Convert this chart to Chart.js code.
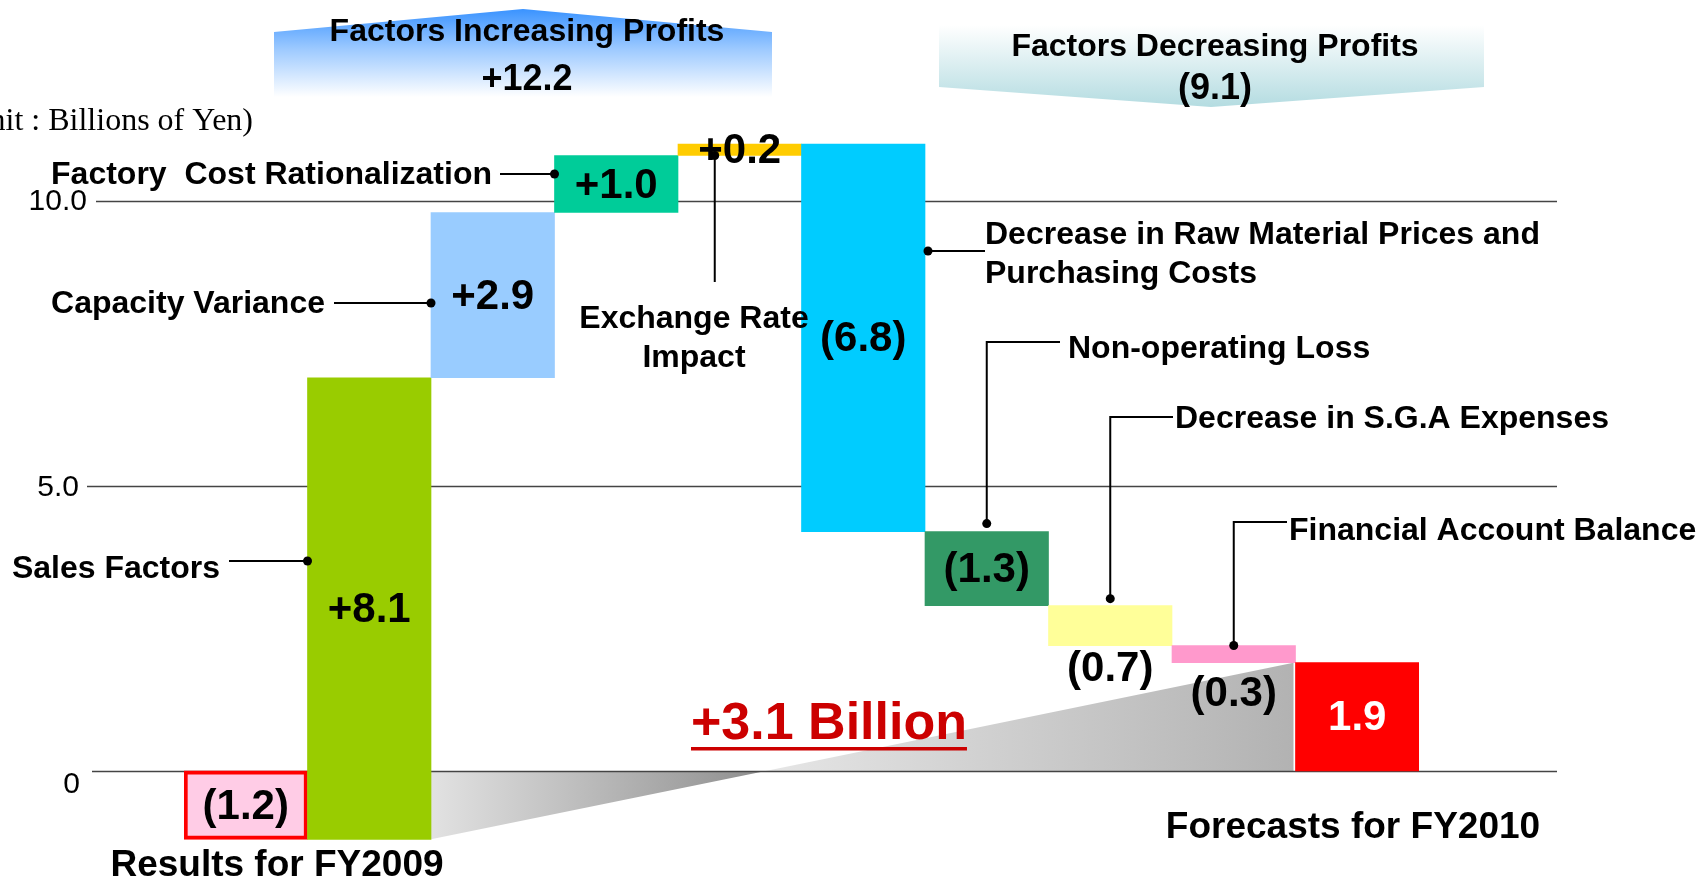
<!DOCTYPE html>
<html>
<head>
<meta charset="utf-8">
<script src="https://cdn.jsdelivr.net/npm/chart.js@4.4.1/dist/chart.umd.min.js"></script>
<style>
  html, body { margin: 0; padding: 0; background: #fff; }
  canvas { display: block; }
</style>
</head>
<body>
<canvas id="bridgeChart" width="1698" height="878"></canvas>
<script>
// Ordinary profit bridge, FY2009 results -> FY2010 forecast (billions of yen)
const categories = [
  "Results for FY2009",
  "Sales Factors",
  "Capacity Variance",
  "Factory  Cost Rationalization",
  "Exchange Rate Impact",
  "Decrease in Raw Material Prices and Purchasing Costs",
  "Non-operating Loss",
  "Decrease in S.G.A Expenses",
  "Financial Account Balance",
  "Forecasts for FY2010"
];
const resultFY2009 = -1.2;
const factorChanges = [8.1, 2.9, 1.0, 0.2, -6.8, -1.3, -0.7, -0.3];
const forecastFY2010 = 1.9;
const barLabels = ["(1.2)", "+8.1", "+2.9", "+1.0", "+0.2", "(6.8)", "(1.3)", "(0.7)", "(0.3)", "1.9"];
const yTicks = [0, 5, 10];
const yTickLabels = ["0", "5.0", "10.0"];
const increaseTotal = "+12.2";
const decreaseTotal = "(9.1)";
const netChange = "+3.1 Billion";

const barColors = ["#ffcce6", "#99cc00", "#99ccff", "#00cc99", "#ffcc00", "#00ccff", "#339966", "#ffff99", "#ff99cc", "#ff0000"];
const FONT = '"Liberation Sans", Arial, Helvetica, sans-serif';

// floating bars [from, to]
const floating = [[0, resultFY2009]];
let level = resultFY2009;
factorChanges.forEach(d => {
  const next = Math.round((level + d) * 10) / 10;
  floating.push([level, next]);
  level = next;
});
floating.push([0, forecastFY2010]);

function edges(b) {
  return {
    cx: b.x,
    left: b.x - b.width / 2,
    right: b.x + b.width / 2,
    top: Math.min(b.y, b.base),
    bottom: Math.max(b.y, b.base)
  };
}

function label(ctx, str, x, y, size, opts) {
  opts = opts || {};
  ctx.save();
  ctx.font = (opts.weight || "bold") + " " + size + "px " + (opts.family || FONT);
  ctx.fillStyle = opts.color || "#000";
  ctx.textAlign = opts.align || "center";
  ctx.textBaseline = "middle";
  ctx.fillText(str, x, y);
  ctx.restore();
}

// callout labels with leader lines; last path point gets a dot
const callouts = [
  { bar: 1, lines: ["Sales Factors"], align: "right", x: 220, y: [569],
    path: e => [[229, 561], [e.left, 561]] },
  { bar: 2, lines: ["Capacity Variance"], align: "right", x: 325, y: [304],
    path: e => [[334, 303], [e.left, 303]] },
  { bar: 3, lines: ["Factory  Cost Rationalization"], align: "right", x: 492, y: [175],
    path: e => [[500, 174], [e.left, 174]] },
  { bar: 4, lines: ["Exchange Rate", "Impact"], align: "center", x: 694, y: [319, 358],
    path: e => [[e.cx - 25, 282], [e.cx - 25, e.bottom]] },
  { bar: 5, lines: ["Decrease in Raw Material Prices and", "Purchasing Costs"], align: "left", x: 985, y: [235, 274],
    path: e => [[985, 251], [e.right + 3, 251]] },
  { bar: 6, lines: ["Non-operating Loss"], align: "left", x: 1068, y: [349],
    path: e => [[1060, 342], [e.cx, 342], [e.cx, e.top - 8]] },
  { bar: 7, lines: ["Decrease in S.G.A Expenses"], align: "left", x: 1175, y: [419],
    path: e => [[1173, 417], [e.cx, 417], [e.cx, e.top - 7]] },
  { bar: 8, lines: ["Financial Account Balance"], align: "left", x: 1289, y: [531],
    path: e => [[1287, 522], [e.cx, 522], [e.cx, e.top]] }
];

// value label shift below the bar bottom (0 = centred in bar)
const labelBelow = [0, 0, 0, 0, 0, 0, 0, 24, 32, 0];

const bridgeDecor = {
  id: "bridgeDecor",
  beforeDatasetsDraw(chart) {
    const ctx = chart.ctx;
    const y = chart.scales.y;
    const bars = chart.getDatasetMeta(0).data.map(edges);

    // banner: factors increasing profits
    ctx.save();
    let g = ctx.createLinearGradient(0, 9, 0, 97);
    g.addColorStop(0, "#3a93ff");
    g.addColorStop(0.45, "#9cc9ff");
    g.addColorStop(1, "#ffffff");
    ctx.fillStyle = g;
    ctx.beginPath();
    ctx.moveTo(274, 32); ctx.lineTo(523, 9); ctx.lineTo(772, 32);
    ctx.lineTo(772, 97); ctx.lineTo(274, 97); ctx.closePath();
    ctx.fill();

    // banner: factors decreasing profits
    g = ctx.createLinearGradient(0, 25, 0, 107);
    g.addColorStop(0, "#ffffff");
    g.addColorStop(1, "#b4dce1");
    ctx.fillStyle = g;
    ctx.beginPath();
    ctx.moveTo(939, 25); ctx.lineTo(1484, 25); ctx.lineTo(1484, 87);
    ctx.lineTo(1211, 107); ctx.lineTo(939, 87); ctx.closePath();
    ctx.fill();

    // grey twisted ribbon from FY2009 result to FY2010 forecast
    const xL = bars[1].right, xR = bars[9].left;
    const y0 = y.getPixelForValue(0);
    const yS = y.getPixelForValue(resultFY2009);
    const yE = y.getPixelForValue(forecastFY2010);
    const t = (0 - resultFY2009) / (forecastFY2010 - resultFY2009);
    const xC = xL + t * (xR - xL);
    g = ctx.createLinearGradient(xL, 0, xC, 0);
    g.addColorStop(0, "#e2e2e2");
    g.addColorStop(1, "#8e8e8e");
    ctx.fillStyle = g;
    ctx.beginPath();
    ctx.moveTo(xL, y0); ctx.lineTo(xL, yS); ctx.lineTo(xC, y0); ctx.closePath();
    ctx.fill();
    g = ctx.createLinearGradient(xC, 0, xR, 0);
    g.addColorStop(0, "#e6e6e6");
    g.addColorStop(1, "#b2b2b2");
    ctx.fillStyle = g;
    ctx.beginPath();
    ctx.moveTo(xC, y0); ctx.lineTo(xR - 2, y0); ctx.lineTo(xR - 2, yE); ctx.closePath();
    ctx.fill();

    // grid lines + tick labels
    ctx.strokeStyle = "#444";
    ctx.lineWidth = 1.5;
    const tickX = [80, 79, 87];
    const tickDy = [13, 1, 0];
    const gridStart = [92, 87, 96];
    yTicks.forEach((v, i) => {
      const py = Math.round(y.getPixelForValue(v)) + 0.5;
      ctx.beginPath();
      ctx.moveTo(gridStart[i], py);
      ctx.lineTo(1557, py);
      ctx.stroke();
      label(ctx, yTickLabels[i], tickX[i], py + tickDy[i], 30, { weight: "normal", align: "right" });
    });
    ctx.restore();
  },

  afterDatasetsDraw(chart) {
    const ctx = chart.ctx;
    const bars = chart.getDatasetMeta(0).data.map(edges);

    // banner texts
    label(ctx, "Factors Increasing Profits", 527, 32, 32);
    label(ctx, increaseTotal, 527, 80, 36);
    label(ctx, "Factors Decreasing Profits", 1215, 47, 32);
    label(ctx, decreaseTotal, 1215, 89, 36);

    // unit note
    label(ctx, "(Unit : Billions of Yen)", 253, 122, 32,
      { weight: "normal", family: '"Liberation Serif", "Times New Roman", serif', align: "right" });

    // leader lines
    ctx.save();
    ctx.strokeStyle = "#000";
    ctx.fillStyle = "#000";
    ctx.lineWidth = 2;
    callouts.forEach(c => {
      const pts = c.path(bars[c.bar]);
      ctx.beginPath();
      pts.forEach((p, i) => (i ? ctx.lineTo(p[0], p[1]) : ctx.moveTo(p[0], p[1])));
      ctx.stroke();
      const end = pts[pts.length - 1];
      ctx.beginPath();
      ctx.arc(end[0], end[1], 4.5, 0, Math.PI * 2);
      ctx.fill();
      c.lines.forEach((s, i) => label(ctx, s, c.x, c.y[i], 32, { align: c.align }));
    });
    ctx.restore();

    // value labels
    bars.forEach((e, i) => {
      const py = labelBelow[i] ? e.bottom + labelBelow[i] : (e.top + e.bottom) / 2 + 2;
      label(ctx, barLabels[i], e.cx, py, 42, { color: i === bars.length - 1 ? "#fff" : "#000" });
    });

    // net change
    ctx.save();
    ctx.font = "bold 52px " + FONT;
    const w = ctx.measureText(netChange).width;
    ctx.restore();
    label(ctx, netChange, 691, 725, 52, { color: "#cc0000", align: "left" });
    ctx.fillStyle = "#cc0000";
    ctx.fillRect(691, 747, w, 3.5);

    // period labels
    label(ctx, categories[0], 277, 866, 37);
    label(ctx, categories[categories.length - 1], 1353, 828, 37);
  }
};

new Chart(document.getElementById("bridgeChart"), {
  type: "bar",
  data: {
    labels: categories,
    datasets: [{
      data: floating,
      backgroundColor: barColors,
      borderColor: barColors.map((c, i) => (i === 0 ? "#ff0000" : c)),
      borderWidth: barColors.map((c, i) => (i === 0 ? 4 : 0)),
      borderSkipped: false,
      barPercentage: 1,
      categoryPercentage: 1
    }]
  },
  options: {
    responsive: false,
    animation: false,
    events: [],
    layout: { padding: { left: 184, right: 279, top: 127, bottom: 33 } },
    plugins: { legend: { display: false }, tooltip: { enabled: false } },
    scales: {
      x: { display: false },
      y: { display: false, min: -1.3, max: 11.3 }
    }
  },
  plugins: [bridgeDecor]
});
</script>
</body>
</html>
